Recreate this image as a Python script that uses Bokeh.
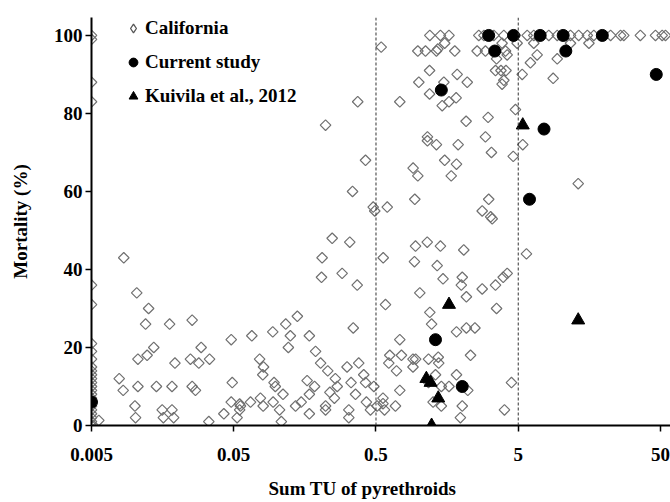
import numpy as np
from bokeh.plotting import figure
from bokeh.models import (FixedTicker, CustomJSTickFormatter, Span, Legend,
                          LegendItem, Range1d, Title)
from bokeh.embed import file_html
from bokeh.resources import INLINE

# ---- data ----
cal_x = (
    [0.005] * 25
    + [0.00563, 0.00843, 0.0104, 0.0126, 0.012, 0.0177, 0.0255, 0.048, 0.0137, 0.0123,
       0.0106, 0.0295, 0.0248, 0.0284, 0.0338, 0.0193, 0.00783, 0.00835, 0.0106, 0.0143,
       0.0184, 0.0255, 0.0269, 0.0488, 0.048, 0.0426, 0.0101, 0.0102, 0.0157, 0.0184,
       0.016, 0.0189, 0.0334]
    + [0.209, 0.207, 0.289, 0.369, 0.14, 0.116, 0.094, 0.067, 0.125, 0.121,
       0.17, 0.346, 0.076, 0.081, 0.080, 0.188, 0.204, 0.229, 0.313, 0.378,
       0.41, 0.096, 0.098, 0.111, 0.164, 0.185, 0.17, 0.259, 0.267, 0.237,
       0.255, 0.334, 0.422, 0.359, 0.483, 0.0557, 0.055, 0.055, 0.0656, 0.077,
       0.0805, 0.0946, 0.105, 0.108, 0.0528, 0.136, 0.149, 0.17, 0.221, 0.221,
       0.322, 0.322, 0.428, 0.457, 0.509]
    + [0.948, 1.146, 1.419, 2.07, 0.562, 0.932, 1.346, 1.48, 2.02, 1.99,
       2.16, 1.016, 0.583, 2.79, 3.46, 3.92, 4.18, 3.52, 1.195, 1.23,
       1.84, 2.16, 2.48, 0.735, 0.625, 0.755, 0.615, 0.697, 0.91, 0.95,
       0.91, 1.17, 1.37, 1.38, 2.31, 1.31, 1.84, 0.735, 1.17, 1.44,
       1.63, 2.21, 1.26, 1.44, 2.02, 1.96, 0.56, 0.56, 0.685, 0.574,
       4.48, 4.0]
    + [1.195, 1.419, 1.63, 2.64, 2.87, 3.37, 3.96, 4.78, 5.78, 6.43,
       8.2, 9.4, 11.65, 13.3, 15.3, 17.0, 22.3, 26.2, 27.6, 36.1,
       46.1, 51.4, 54.2]
    + [0.544, 0.984, 1.114, 1.33, 1.36, 1.52, 1.79, 2.57, 2.94, 3.52,
       3.85, 4.07, 4.18, 4.91, 5.33, 6.09, 6.79, 6.43, 9.4, 11.65,
       8.8, 15.7, 1.19, 1.86, 2.19, 1.0, 1.50, 1.19, 1.63, 1.46,
       1.83, 0.372, 0.735, 3.46, 3.78, 4.1, 3.96, 3.85, 4.78, 3.07,
       2.15, 2.94, 3.24, 4.61, 5.38, 1.15, 1.15, 1.33, 1.89, 1.52,
       1.84, 1.69, 0.912, 0.984, 0.422, 0.342, 0.478, 0.49, 0.6, 0.937,
       3.1, 2.79, 3.2, 3.28, 13.2, 0.246, 0.327, 0.221, 5.71]
)
cal_y = (
    [100, 99, 88, 83, 36, 31, 21, 19, 17, 15, 14, 13, 12, 11, 10, 9, 8, 7, 6, 5, 4, 3, 2, 1, 0]
    + [1.3, 43, 34, 30, 26, 26, 27, 22, 20, 18,
       17, 20, 17, 16, 17, 16, 12, 9, 10, 10,
       10, 10, 9, 11, 6, 3, 5, 2, 4, 4,
       2, 2, 1]
    + [43, 38, 39, 36, 28, 26, 24, 23, 23, 20,
       23, 25, 17, 15, 13, 19, 16, 14, 15, 16,
       13, 11, 10, 8, 11.5, 10, 8, 12, 10, 8.5,
       7, 11, 11, 8, 10, 5, 5.5, 4, 6, 7,
       5, 6, 4, 1, 2, 5, 6, 3, 5, 4,
       4, 2, 6, 4, 5]
    + [46, 47, 46, 45, 43, 42, 41, 37.6, 38, 36,
       33, 34, 31, 35, 36, 38, 39, 30, 29, 26,
       24, 25, 25, 22, 18, 18, 16, 14, 17, 17,
       15, 17, 17.5, 16, 18, 13, 13, 9, 11, 10,
       10, 9, 6, 5, 5, 2, 7, 5.6, 5, 4,
       11, 4]
    + [100] * 23
    + [97, 96, 96, 96, 96.5, 98, 96, 96, 96, 94,
       98, 96, 95, 98, 90, 93, 95, 98, 94, 98,
       89, 98, 91, 90, 88, 88, 88, 85, 83, 82,
       84, 83, 83, 91, 91, 91, 88.5, 87.5, 81, 79,
       78, 74, 70, 69, 72, 74, 73, 72, 72, 68,
       67, 64, 66, 64, 68, 60, 56, 55, 56, 58,
       58, 55, 53.5, 53, 62, 48, 47, 77, 44]
)
cur_x = [0.005, 1.31, 2.02, 1.44, 3.10, 3.42, 4.63, 7.13, 10.35, 10.8, 19.5, 46.7, 7.59, 6.0]
cur_y = [6, 22, 10, 86, 100, 96, 100, 100, 100, 96, 100, 90, 76, 58]
kui_x = [1.63, 1.13, 1.21, 1.37, 1.23, 13.2, 5.38]
kui_y = [31, 12, 11, 7, 0, 27, 77]
x_ticks = [0.005, 0.05, 0.5, 5, 50]
y_ticks = [0, 20, 40, 60, 80, 100]
thresholds = [0.5, 5]

FONT = "Liberation Serif"

p = figure(width=670, height=502, x_axis_type="log",
           x_range=Range1d(0.005, 58.8), y_range=Range1d(0, 104.6),
           output_backend="svg", toolbar_location=None,
           min_border_left=91, min_border_top=17, min_border_right=0,
           min_border_bottom=77)
p.grid.visible = False
p.outline_line_color = None
p.background_fill_color = "white"

for t in thresholds:
    p.add_layout(Span(location=t, dimension="height", line_color="#333333",
                      line_dash="3 2", line_width=1))

r_cal = p.scatter(cal_x, cal_y, marker="square", angle=np.pi / 4, size=7.5,
                  fill_color=None, line_color="#707070", line_width=1.2)
r_cur = p.scatter(cur_x, cur_y, marker="circle", size=12,
                  fill_color="black", line_color="black")
r_kui = p.scatter(kui_x, kui_y, marker="triangle", size=13,
                  fill_color="black", line_color="black")

# legend-only open-diamond glyph (the legend ignores marker angles); same
# California data, but hidden from the plot area
r_cal_leg = p.scatter(cal_x, cal_y, marker="diamond", size=9, fill_color=None,
                      line_color="#555555", line_width=1.3, visible=False)

for ax in (p.xaxis[0], p.yaxis[0]):
    ax.axis_line_width = 2
    ax.axis_line_color = "black"
    ax.major_tick_line_width = 1.5
    ax.major_tick_out = 6
    ax.major_tick_in = 0
    ax.minor_tick_out = 0
    ax.minor_tick_in = 0
    ax.major_label_text_font = FONT
    ax.major_label_text_font_style = "bold"
    ax.major_label_text_font_size = "19px"
    ax.major_label_text_color = "black"
    ax.axis_label_text_font = FONT
    ax.axis_label_text_font_style = "bold"
    ax.axis_label_text_font_size = "19px"
    ax.axis_label_text_color = "black"

p.xaxis.ticker = FixedTicker(ticks=x_ticks)
p.xaxis.formatter = CustomJSTickFormatter(code="return String(tick)")
p.xaxis.major_label_standoff = 16
p.yaxis.ticker = FixedTicker(ticks=y_ticks)
p.yaxis.major_label_standoff = 3
p.yaxis.axis_label = "Mortality (%)"
p.yaxis.axis_label_standoff = 20

# small spacer, then the x-axis title (left-aligned with an offset so it sits
# where the reference has it)
p.add_layout(Title(text=" ", text_font_size="1px", standoff=9), "below")
p.add_layout(Title(text="Sum TU of pyrethroids", align="left", offset=177,
                   vertical_align="bottom",
                   text_font=FONT, text_font_style="bold", text_font_size="19px",
                   text_color="black", standoff=0), "below")

legend = Legend(items=[LegendItem(label="California", renderers=[r_cal_leg]),
                       LegendItem(label="Current study", renderers=[r_cur]),
                       LegendItem(label="Kuivila et al., 2012", renderers=[r_kui])],
                location=(30, 318))
legend.label_text_font = FONT
legend.label_text_font_style = "bold"
legend.label_text_font_size = "19px"
legend.label_text_color = "black"
legend.background_fill_alpha = 0
legend.border_line_color = None
legend.inactive_fill_alpha = 0
legend.padding = 0
legend.margin = 0
legend.spacing = 12
legend.glyph_width = 24
legend.glyph_height = 22
legend.label_height = 22
legend.label_standoff = 0
p.add_layout(legend, "center")

open("out.html", "w").write(file_html(p, INLINE))
